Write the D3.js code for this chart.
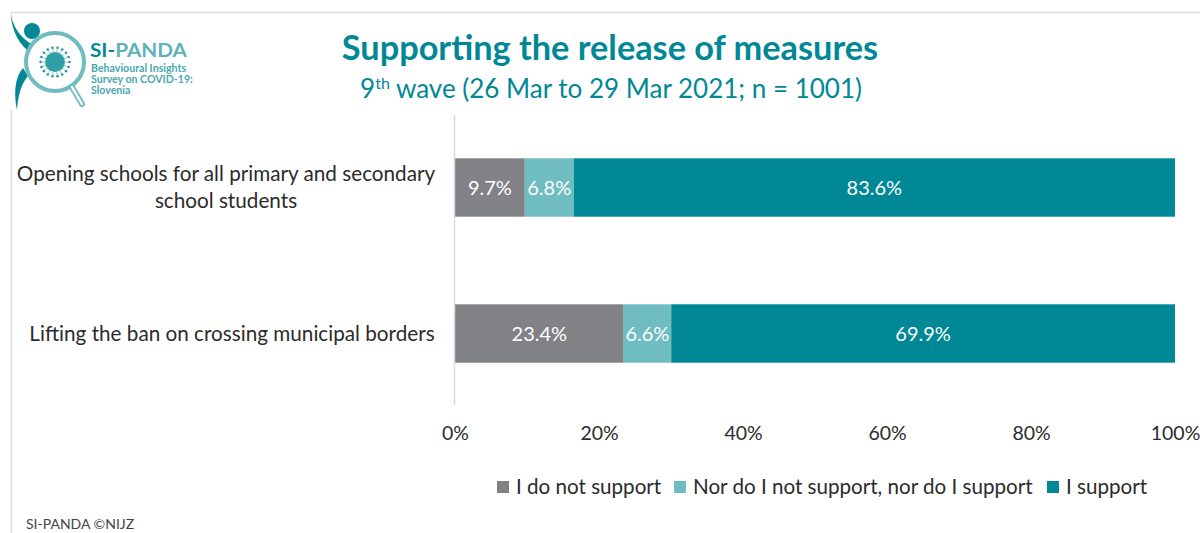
<!DOCTYPE html>
<html><head><meta charset="utf-8">
<script src="https://cdnjs.cloudflare.com/ajax/libs/d3/7.8.5/d3.min.js"></script>
<style>html,body{margin:0;background:#fff}svg{display:block}text{font-family:Lato,"Open Sans",sans-serif}</style>
</head><body><svg id="c" width="1200" height="533"></svg>
<script>
const categories = ["Opening schools for all primary and secondary|school students", "Lifting the ban on crossing municipal borders"];
const seriesNames = ["I do not support", "Nor do I not support, nor do I support", "I support"];
const notSupport = [9.7, 23.4];
const neutral = [6.8, 6.6];
const support = [83.6, 69.9];
const seriesValues = [notSupport, neutral, support];
const colors = ["#808285", "#6fbcc1", "#008896"];
const ticks = [0, .2, .4, .6, .8, 1];

const svg = d3.select("#c");
const TEAL = "#008896";
// frame
svg.append("path").attr("d","M11.5 533V12.5H1200").attr("fill","none").attr("stroke","#dcdcdc").attr("stroke-width",1.5);

// logo
const logo = svg.append("g");
logo.append("rect").attr("x",9).attr("y",20).attr("width",185).attr("height",90).attr("fill","#fff");
logo.append("path").attr("d","M11 16C15 30 20 36 31 44L27 50C18 42 12 30 11 16Z").attr("fill",TEAL);
logo.append("circle").attr("cx",32).attr("cy",31).attr("r",8).attr("fill",TEAL);
logo.append("path").attr("d","M23 68C14 78 14 96 17 110C18 96 21 84 28 76Z").attr("fill",TEAL);
logo.append("circle").attr("cx",55).attr("cy",62).attr("r",29).attr("fill","none").attr("stroke","#6fbcc1").attr("stroke-width",4);
logo.append("line").attr("x1",72).attr("y1",87).attr("x2",82).attr("y2",104).attr("stroke","#6fbcc1").attr("stroke-width",6).attr("stroke-linecap","round");
logo.append("line").attr("x1",72).attr("y1",87).attr("x2",82).attr("y2",104).attr("stroke","#fff").attr("stroke-width",2.4).attr("stroke-linecap","round");
logo.append("circle").attr("cx",55).attr("cy",62).attr("r",10).attr("fill","#2f9ea6");
const spikeAngles = d3.range(0, 360, 20);
logo.selectAll("line.sp").data(spikeAngles).join("line").attr("class","sp")
  .attr("x1",d=>55+9*Math.cos(d*Math.PI/180)).attr("y1",d=>62+9*Math.sin(d*Math.PI/180))
  .attr("x2",d=>55+14*Math.cos(d*Math.PI/180)).attr("y2",d=>62+14*Math.sin(d*Math.PI/180))
  .attr("stroke","#6fbcc1").attr("stroke-width",.8);
logo.selectAll("circle.s").data(spikeAngles).join("circle").attr("class","s")
  .attr("cx",d=>55+14.5*Math.cos(d*Math.PI/180)).attr("cy",d=>62+14.5*Math.sin(d*Math.PI/180))
  .attr("r",1.2).attr("fill","#1f8f98");
const lt = (s,x,y,sz,w,f)=>logo.append("text").attr("x",x).attr("y",y).attr("font-size",sz).attr("font-weight",w).attr("fill",f).text(s);
const si = logo.append("text").attr("x",90).attr("y",57).attr("font-size",19).attr("font-weight",700).attr("textLength",97).attr("lengthAdjust","spacingAndGlyphs");
si.append("tspan").attr("fill",TEAL).text("SI-");
si.append("tspan").attr("fill","#5cb3b9").text("PANDA");
lt("Behavioural Insights",91,72,10.6,700,"#4aa8af");
lt("Survey on COVID-19:",91,83,10.6,700,"#4aa8af");
lt("Slovenia",91,94,10.6,700,"#4aa8af");

// titles
svg.append("text").attr("x",610).attr("y",60).attr("text-anchor","middle").attr("font-size",34.3).attr("font-weight",700).attr("fill",TEAL).text("Supporting the release of measures");
const sub = svg.append("text").attr("x",611).attr("y",98).attr("text-anchor","middle").attr("font-size",26).attr("fill",TEAL);
sub.append("tspan").text("9");
sub.append("tspan").attr("font-size",16).attr("dy",-9).text("th");
sub.append("tspan").attr("dy",9).text(" wave (26 Mar to 29 Mar 2021; n = 1001)");

// scales
const x = d3.scaleLinear().domain([0,1]).range([455,1175]);
const y = d3.scaleBand().domain(categories).range([114.5,406.5]).paddingInner(.6).paddingOuter(.3);
const rows = categories.map((c,i)=>{const o={c};seriesNames.forEach((s,j)=>o[s]=seriesValues[j][i]);return o;});
const stacked = d3.stack().keys(seriesNames).offset(d3.stackOffsetExpand)(rows);

svg.append("g").selectAll("g").data(stacked).join("g").attr("fill",(d,i)=>colors[i])
  .selectAll("rect").data(d=>d).join("rect")
  .attr("x",d=>x(d[0])).attr("width",d=>x(d[1])-x(d[0]))
  .attr("y",d=>y(d.data.c)).attr("height",y.bandwidth());

// value labels
stacked.forEach((s,j)=>{
  svg.append("g").selectAll("text").data(s).join("text")
    .attr("x",d=>(x(d[0])+x(d[1]))/2).attr("y",d=>y(d.data.c)+y.bandwidth()/2+7)
    .attr("text-anchor","middle").attr("font-size",20).attr("fill","#fff")
    .text(d=>d.data[seriesNames[j]].toFixed(1)+"%");
});

// category axis
const yAxis = svg.append("g").attr("transform","translate(454.5,0)")
  .call(d3.axisLeft(y).tickSize(0).tickFormat(""));
yAxis.select(".domain").attr("d","M0 115V405").attr("stroke","#d9d9d9").attr("stroke-width",1.5);
categories.forEach(c=>{
  const lines = c.split("|");
  const mid = y(c)+y.bandwidth()/2;
  const t = svg.append("text").attr("text-anchor","middle").attr("font-size",20.7).attr("fill","#2b2b2b");
  lines.forEach((l,i)=>t.append("tspan").attr("x",lines.length>1?226:232)
    .attr("y",mid+7+(i-(lines.length-1)/2)*27).text(l));
});

// value axis
const xAxis = svg.append("g").attr("transform","translate(0,434)")
  .call(d3.axisBottom(x).tickValues(ticks).tickSize(0).tickFormat(d3.format(".0%")));
xAxis.select(".domain").remove();
xAxis.selectAll("text").attr("font-size",19.5).attr("fill","#2b2b2b").attr("font-family","Lato,sans-serif").attr("dy","0.71em").attr("y",-8);

// legend
const legendX = [497, 674, 1047];
const lg = svg.append("g").selectAll("g").data(seriesNames).join("g").attr("transform",(d,i)=>`translate(${legendX[i]},481)`);
lg.append("rect").attr("width",12).attr("height",12).attr("fill",(d,i)=>colors[i]);
lg.append("text").attr("x",19).attr("y",13).attr("font-size",20.6).attr("fill","#2b2b2b").text(d=>d);

svg.append("text").attr("x",26).attr("y",529).attr("font-size",14).attr("fill","#444").text("SI-PANDA ©NIJZ");
</script></body></html>
